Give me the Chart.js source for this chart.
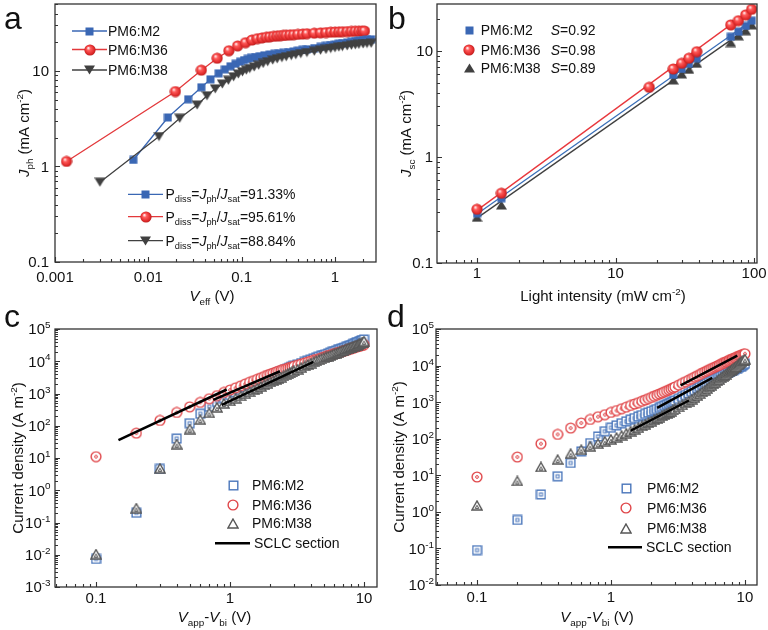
<!DOCTYPE html>
<html>
<head>
<meta charset="utf-8">
<script src="https://cdn.jsdelivr.net/npm/chart.js@4.4.1/dist/chart.umd.min.js"></script>
<style>
  body { margin: 0; background: #fff; }
  #wrap { position: relative; width: 768px; height: 630px; overflow: hidden; }
  canvas { position: absolute; }
</style>
</head>
<body>
<div id="wrap">
  <canvas id="pa" width="384" height="310" style="left:0;top:0"></canvas>
  <canvas id="pb" width="384" height="310" style="left:384px;top:0"></canvas>
  <canvas id="pc" width="384" height="330" style="left:0;top:300px"></canvas>
  <canvas id="pd" width="384" height="330" style="left:384px;top:300px"></canvas>
</div>
<script>
const FONT = '"Liberation Sans", Arial, sans-serif';
const RED = '#e3383b', BLUE = '#3a67b4', GRAY = '#404040', AXIS = '#333';

// ---------- panel a : Jph vs Veff ----------
const aM2V  = [0.0069,0.0162,0.0267,0.037,0.0463,0.0567,0.066,0.076,0.086,0.096,0.106,0.116,0.126,0.14,0.156,0.175,0.2,0.225,0.25,0.28,0.32,0.36,0.4,0.45,0.5,0.6,0.7,0.8,0.9,1.0,1.1,1.2,1.35,1.5,1.65,1.8,2.0,2.2,2.44];
const aM2J  = [1.17,3.26,5.06,6.75,8.18,9.45,10.4,11.2,11.9,12.5,13.0,13.4,13.7,14.0,14.3,14.6,14.9,15.1,15.3,15.5,15.8,16.0,16.3,16.6,16.9,17.4,17.9,18.3,18.7,19.0,19.3,19.6,19.9,20.2,20.5,20.8,21.0,21.3,21.5];
const aM36V = [0.00133,0.0195,0.037,0.0546,0.073,0.0906,0.11,0.129,0.147,0.165,0.184,0.2,0.22,0.24,0.26,0.28,0.3,0.33,0.36,0.4,0.45,0.5,0.6,0.7,0.8,0.9,1.0,1.1,1.2,1.35,1.5,1.65,1.8,1.95,2.07];
const aM36J = [1.13,6.1,10.2,13.6,16.3,18.3,19.8,21.1,21.8,22.2,22.6,22.8,23.1,23.3,23.5,23.6,23.7,23.9,24.0,24.2,24.4,24.6,24.9,25.1,25.3,25.5,25.6,25.7,25.8,25.9,26.0,26.1,26.1,26.2,26.2];
const aM38V = [0.00303,0.013,0.0217,0.0333,0.0425,0.0521,0.062,0.072,0.082,0.092,0.102,0.112,0.122,0.136,0.152,0.17,0.19,0.215,0.24,0.27,0.3,0.34,0.38,0.43,0.5,0.6,0.7,0.8,0.9,1.0,1.1,1.2,1.35,1.5,1.65,1.8,2.0,2.2,2.44];
const aM38J = [0.685,2.06,3.2,4.4,5.5,6.5,7.3,8.0,8.7,9.3,9.8,10.2,10.6,11.0,11.5,12.0,12.5,13.0,13.4,13.8,14.1,14.5,14.8,15.2,15.6,16.1,16.5,16.8,17.2,17.5,17.8,18.0,18.3,18.6,18.8,19.0,19.2,19.4,19.5];
const aXTicks = [0.001, 0.01, 0.1, 1], aXTickText = ['0.001', '0.01', '0.1', '1'];
const aYTicks = [0.1, 1, 10], aYTickText = ['0.1', '1', '10'];
const blendNames = ['PM6:M2', 'PM6:M36', 'PM6:M38'];
const aPdiss = ['91.33%', '95.61%', '88.84%'];

// ---------- panel b : Jsc vs light intensity ----------
const bM36I = [1, 1.5, 17.5, 26.1, 30.0, 33.9, 38.6, 67.9, 77.1, 87.1, 96.2];
const bM36J = [0.321, 0.455, 4.54, 6.76, 7.65, 8.53, 9.84, 17.6, 19.3, 21.9, 24.7];
const bI    = [1, 1.5, 26.1, 30.0, 33.9, 38.6, 67.9, 77.1, 87.1, 96.2];
const bM2J  = [0.294, 0.408, 5.94, 6.76, 7.55, 8.53, 13.6, 15.2, 17.2, 19.3];
const bM38J = [0.27, 0.352, 5.33, 6.07, 6.7, 7.65, 12.0, 13.9, 15.5, 17.6];
const bFitI = [0.97, 100];
const bFitM2 = [0.282, 20.0], bFitM36 = [0.305, 25.6], bFitM38 = [0.258, 18.1];
const bSlope = ['0.92', '0.98', '0.89'];
const bXTicks = [1, 10, 100], bXTickText = ['1', '10', '100'];
const bYTicks = [0.1, 1, 10], bYTickText = ['0.1', '1', '10'];

// ---------- panels c, d : current density vs Vapp-Vbi ----------
const vSweep = [0.1,0.2,0.3,0.4,0.5,0.6,0.7,0.8,0.9,1.0,1.1,1.2,1.3,1.4,1.5,1.6,1.7,1.8,1.9,2.0,2.1,2.2,2.3,2.4,2.5,2.6,2.7,2.8,2.9,3.0,
  3.2,3.4,3.6,3.8,4.0,4.2,4.4,4.6,4.8,5.0,5.2,5.4,5.6,5.8,6.0,6.2,6.4,6.6,6.8,7.0,7.2,7.4,7.6,7.8,8.0,8.2,8.4,8.6,8.8,9.0,9.2,9.4,9.6,9.8,10];
const cM2J  = [0.0074,0.2,4.6,40,120,235,390,550,720,900, 1090,1300,1530,1780,2050,2330,2620,2920,3230,3550,
  3870,4200,4540,4890,5250,5620,6000,6390,6790,7200, 8000,8800,9600,10400,11200, 12000,12900,13800,14700,15600,
  16500,17400,18400,19400,20400, 21400,22400,23500,24600,25700, 26800,27900,29100,30300,31500, 33000,34500,36000,37600,39200,
  40800,42400,44000,45500,47000];
const cM36J = [11,59,146,258,385,530,690,860,1080,1280, 1500,1730,1980,2240,2500,2780,3070,3370,3680,4000,
  4300,4600,4900,5200,5500,5800,6100,6400,6700,7000, 7600,8200,8800,9400,10000, 10650,11300,12000,12700,13400,
  14100,14800,15500,16200,16900, 17700,18400,19200,19900,20700, 21500,22200,23000,23800,24600, 25400,26200,27100,27900,28700,
  29500,30400,31200,32100,32900];
const cM38J = [0.0105,0.28,4.8,27,79,155,250,370,490,590, 710,840,980,1130,1300,1470,1660,1860,2060,2280,
  2500,2740,2990,3240,3510,3790,4080,4380,4690,5000, 5670,6390,7140,7930,8760, 9600,10400,11200,12000,12800,
  13600,14400,15300,16200,17100, 18000,19000,20000,21000,22000, 23000,24000,25100,26200,27300, 28400,29500,30700,31900,33100,
  34300,35600,36900,39500,42000];
const cSclcV = [[0.147, 0.945], [0.75, 2.36], [0.867, 4.19]];
const cSclcJ = [[36, 1330], [638, 4900], [447, 9500]];

const dM2J  = [0.09,0.6,3.0,9.4,21.7,45,76,115,160,200, 232,265,298,332,367,403,440,478,518,560,
  603,648,695,745,797,851,907,965,1025,1090, 1230,1390,1560,1740,1930, 2130,2340,2560,2790,3030,
  3270,3520,3780,4040,4310, 4580,4860,5140,5430,5720, 6010,6310,6610,6920,7230, 7550,7880,8220,8570,8930,
  9300,9690,10100,10600,11200];
const dM36J = [9,31.6,73,131,195,268,336,400,455,525, 590,660,730,810,890,970,1060,1150,1250,1350,
  1450,1560,1670,1790,1910,2040,2170,2310,2450,2600, 2920,3260,3620,4000,4400, 4820,5260,5720,6200,6700,
  7200,7700,8200,8700,9200, 9700,10200,10800,11400,12000, 12600,13200,13800,14400,15000, 15600,16200,16800,17400,18000,
  18600,19200,19800,20400,21000];
const dM38J = [1.5,7.0,16.9,27,39,50,62,73,85,96, 108,122,140,160,180,200,225,250,275,300,
  330,360,390,425,460,495,530,570,610,650, 740,840,950,1070,1200, 1350,1520,1700,1900,2120,
  2360,2620,2900,3200,3520, 3860,4220,4600,5000,5430, 5880,6350,6850,7380,7930, 8500,9100,9730,10400,11100,
  11800,12600,13400,14200,15000];
const dSclcV = [[3.31, 8.77], [2.21, 5.7], [1.4, 3.82]];
const dSclcJ = [[2860, 18800], [700, 4600], [165, 1110]];

const cdXTicks = [0.1, 1, 10], cdXTickText = ['0.1', '1', '10'];
const cYExp = [-3, -2, -1, 0, 1, 2, 3, 4, 5];
const dYExp = [-2, -1, 0, 1, 2, 3, 4, 5];

// ---------- helpers ----------
const pts = (xs, ys) => xs.map((x, i) => ({ x, y: ys[i] }));

function sprite(w, h, fn) {
  const c = document.createElement('canvas');
  c.width = w; c.height = h;
  fn(c.getContext('2d'));
  return c;
}
const ball = sprite(12, 12, g => {
  const gr = g.createRadialGradient(4.2, 3.9, 0.3, 6, 6, 6);
  gr.addColorStop(0, '#fff2f2'); gr.addColorStop(0.3, '#ff5b5b');
  gr.addColorStop(0.75, '#e02b2b'); gr.addColorStop(1, '#b01a1a');
  g.fillStyle = gr; g.beginPath(); g.arc(6, 6, 5.6, 0, 2 * Math.PI); g.fill();
});
const sqFill = sprite(9, 9, g => { g.fillStyle = BLUE; g.fillRect(0.5, 0.5, 8, 8); });
const triDown = sprite(11, 10, g => {
  g.fillStyle = GRAY; g.beginPath(); g.moveTo(0, 0.5); g.lineTo(11, 0.5); g.lineTo(5.5, 9.5); g.closePath(); g.fill();
});
const triUp = sprite(11, 10, g => {
  g.fillStyle = GRAY; g.beginPath(); g.moveTo(5.5, 0.5); g.lineTo(11, 9.5); g.lineTo(0, 9.5); g.closePath(); g.fill();
});
function openSq(inner) {
  return sprite(11, 11, g => {
    g.fillStyle = '#fff'; g.strokeStyle = '#4a76bb'; g.lineWidth = 1.4;
    g.fillRect(1, 1, 9, 9); g.strokeRect(1.2, 1.2, 8.6, 8.6);
    if (inner) { g.lineWidth = 1; g.strokeRect(4, 4, 3, 3); }
  });
}
function openCirc(inner) {
  return sprite(12, 12, g => {
    g.fillStyle = '#fff'; g.strokeStyle = '#e0474a'; g.lineWidth = 1.4;
    g.beginPath(); g.arc(6, 6, 4.9, 0, 2 * Math.PI); g.fill(); g.stroke();
    if (inner) { g.lineWidth = 1; g.beginPath(); g.arc(6, 6, 1.4, 0, 2 * Math.PI); g.stroke(); }
  });
}
function openTri(inner) {
  return sprite(12, 11, g => {
    g.fillStyle = '#fff'; g.strokeStyle = '#555'; g.lineWidth = 1.4;
    g.beginPath(); g.moveTo(6, 1); g.lineTo(11, 10); g.lineTo(1, 10); g.closePath(); g.fill(); g.stroke();
    if (inner) { g.lineWidth = 1; g.beginPath(); g.moveTo(6, 5.3); g.lineTo(7.8, 8.4); g.lineTo(4.2, 8.4); g.closePath(); g.stroke(); }
  });
}
const oSq = openSq(true), oCirc = openCirc(true), oTri = openTri(true);
const lSq = openSq(false), lCirc = openCirc(false), lTri = openTri(false);

// text with italic / subscript / superscript pieces, y = visual middle
function rich(ctx, segs, x, y, size, align) {
  const base = y + size * 0.36;
  const parts = segs.map(([t, k]) => {
    const small = /[bp]/.test(k);
    const font = (k.includes('i') ? 'italic ' : '') + (small ? size * 0.66 : size) + 'px ' + FONT;
    ctx.font = font;
    return { t, font, w: ctx.measureText(t).width,
      dy: k.includes('b') ? size * 0.22 : k.includes('p') ? -size * 0.42 : 0 };
  });
  const total = parts.reduce((s, p) => s + p.w, 0);
  let cx = align === 'center' ? x - total / 2 : align === 'right' ? x - total : x;
  ctx.textAlign = 'left'; ctx.textBaseline = 'alphabetic';
  for (const p of parts) { ctx.font = p.font; ctx.fillText(p.t, cx, base + p.dy); cx += p.w; }
}

function tickMarks(ctx, s, A, horiz) {
  const lo = Math.floor(Math.log10(s.min)), hi = Math.ceil(Math.log10(s.max));
  ctx.beginPath();
  for (let e = lo; e <= hi; e++) {
    for (let m = 1; m < 10; m++) {
      const v = m * Math.pow(10, e);
      if (v < s.min * 0.999 || v > s.max * 1.001) continue;
      const p = Math.round(s.getPixelForValue(v)) + 0.5;
      const len = m === 1 ? 5 : 3;
      if (horiz) { ctx.moveTo(p, A.bottom); ctx.lineTo(p, A.bottom - len); }
      else { ctx.moveTo(A.left, p); ctx.lineTo(A.left + len, p); }
    }
  }
  ctx.stroke();
}

function img(ctx, im, x, y) { ctx.drawImage(im, Math.round(x - im.width / 2), Math.round(y - im.height / 2)); }
function hline(ctx, color, w, x1, x2, y) {
  ctx.strokeStyle = color; ctx.lineWidth = w;
  ctx.beginPath(); ctx.moveTo(x1, y); ctx.lineTo(x2, y); ctx.stroke();
}

function decor(o) {
  return {
    id: 'decor',
    afterDraw(chart) {
      const { ctx, chartArea: A } = chart;
      const sx = chart.scales.x, sy = chart.scales.y;
      ctx.save();
      ctx.strokeStyle = AXIS; ctx.lineWidth = 1.3;
      ctx.strokeRect(A.left, A.top, A.right - A.left, A.bottom - A.top);
      ctx.lineWidth = 1.1;
      tickMarks(ctx, sx, A, true);
      tickMarks(ctx, sy, A, false);
      ctx.fillStyle = '#111';
      o.xt.forEach(([v, segs]) => rich(ctx, segs, sx.getPixelForValue(v), A.bottom + o.xlo, 15, 'center'));
      o.yt.forEach(([v, segs]) => rich(ctx, segs, A.left - o.ylo, sy.getPixelForValue(v), 15, 'right'));
      rich(ctx, o.xTitle, o.xTitlePos[0], o.xTitlePos[1], 15, 'center');
      ctx.save();
      ctx.translate(o.yTitleX, (A.top + A.bottom) / 2);
      ctx.rotate(-Math.PI / 2);
      rich(ctx, o.yTitle, 0, 0, 15, 'center');
      ctx.restore();
      ctx.font = '32px ' + FONT; ctx.textAlign = 'left'; ctx.textBaseline = 'alphabetic';
      ctx.fillText(o.letter, o.letterPos[0], o.letterPos[1]);
      if (o.legend) o.legend(ctx);
      ctx.restore();
    }
  };
}

function panel(id, o) {
  const axis = (range, fit) => ({
    type: 'logarithmic', min: range[0], max: range[1],
    grid: { display: false, drawTicks: false }, border: { display: false },
    ticks: { display: false }, afterFit: fit
  });
  return new Chart(document.getElementById(id), {
    type: 'scatter',
    data: { datasets: o.datasets },
    options: {
      responsive: false, animation: false, events: [], devicePixelRatio: 1,
      layout: { padding: o.pad, autoPadding: false },
      plugins: { legend: { display: false }, tooltip: { enabled: false } },
      scales: {
        x: axis(o.xr, s => { s.height = o.xh; s.paddingLeft = s.paddingRight = 0; }),
        y: axis(o.yr, s => { s.width = o.yw; s.paddingTop = s.paddingBottom = 0; })
      }
    },
    plugins: [decor(o)]
  });
}

const plain = (vals, texts) => vals.map((v, i) => [v, [[texts[i], '']]]);
const pow10 = exps => exps.map(e => [Math.pow(10, e), [['10', ''], [String(e), 'p']]]);
const lineSet = (xs, ys, color, w, order) => ({ data: pts(xs, ys), showLine: true, borderColor: color, borderWidth: w, pointRadius: 0, order });
const markSet = (xs, ys, style, order, lineColor) => ({
  data: pts(xs, ys), pointStyle: style, pointRadius: 5, order,
  showLine: !!lineColor, borderColor: lineColor || 'transparent', borderWidth: 1.3
});

// ---------- panel a ----------
panel('pa', {
  pad: { left: 0, top: 4, right: 8, bottom: 0 }, xh: 48, yw: 55,
  xr: [0.001, 2.75], yr: [0.1, 50.3],
  datasets: [
    markSet(aM38V, aM38J, triDown, 1, GRAY),
    markSet(aM2V, aM2J, sqFill, 2, BLUE),
    markSet(aM36V, aM36J, ball, 3, RED)
  ],
  xt: plain(aXTicks, aXTickText), xlo: 14.5,
  yt: plain(aYTicks, aYTickText), ylo: 6,
  xTitle: [['V', 'i'], ['eff', 'b'], [' (V)', '']], xTitlePos: [212, 296],
  yTitle: [['J', 'i'], ['ph', 'b'], [' (mA cm', ''], ['-2', 'p'], [')', '']], yTitleX: 24,
  letter: 'a', letterPos: [4, 29],
  legend(ctx) {
    const marks = [sqFill, ball, triDown], cols = [BLUE, RED, GRAY];
    [31, 49.5, 70].forEach((y, i) => {
      hline(ctx, cols[i], 1.3, 72, 107, y); img(ctx, marks[i], 89.5, y);
      ctx.fillStyle = '#111'; rich(ctx, [[blendNames[i], '']], 108, y, 14, 'left');
    });
    [194.3, 216.7, 240.7].forEach((y, i) => {
      hline(ctx, cols[i], 1.3, 128, 163, y); img(ctx, marks[i], 145.5, y);
      ctx.fillStyle = '#111';
      rich(ctx, [['P', ''], ['diss', 'b'], ['=', ''], ['J', 'i'], ['ph', 'b'], ['/', ''], ['J', 'i'], ['sat', 'b'], ['=' + aPdiss[i], '']], 165.5, y, 14, 'left');
    });
  }
});

// ---------- panel b ----------
panel('pb', {
  pad: { left: 0, top: 4, right: 11, bottom: 0 }, xh: 47, yw: 53,
  xr: [0.514, 105], yr: [0.1, 27.7],
  datasets: [
    markSet(bM36I, bM36J, ball, 1),
    markSet(bI, bM2J, sqFill, 2),
    markSet(bI, bM38J, triUp, 3),
    lineSet(bFitI, bFitM36, '#e8383d', 1.3, 4),
    lineSet(bFitI, bFitM2, '#3a6fb8', 1.3, 5),
    lineSet(bFitI, bFitM38, '#404040', 1.3, 6)
  ],
  xt: plain(bXTicks, bXTickText), xlo: 10,
  yt: plain(bYTicks, bYTickText), ylo: 4,
  xTitle: [['Light intensity (mW cm', ''], ['-2', 'p'], [')', '']], xTitlePos: [219, 296],
  yTitle: [['J', 'i'], ['sc', 'b'], [' (mA cm', ''], ['-2', 'p'], [')', '']], yTitleX: 22,
  letter: 'b', letterPos: [4, 29],
  legend(ctx) {
    const marks = [sqFill, ball, triUp];
    [30.3, 50, 68.3].forEach((y, i) => {
      img(ctx, marks[i], 85, y);
      ctx.fillStyle = '#111';
      rich(ctx, [[blendNames[i], '']], 96.7, y, 14, 'left');
      rich(ctx, [['S', 'i'], ['=' + bSlope[i], '']], 166.7, y, 14, 'left');
    });
  }
});

// ---------- panel c ----------
function sclcSets(vs, js) { return vs.map((v, i) => lineSet(v, js[i], '#000', 2.5, 0)); }
const jvTitleX = [['V', 'i'], ['app', 'b'], ['-', ''], ['V', 'i'], ['bi', 'b'], [' (V)', '']];
const jvTitleY = [['Current density (A m', ''], ['-2', 'p'], [')', '']];
function jvLegend(mx, tx, ys, lx1, lx2) {
  return ctx => {
    const marks = [lSq, lCirc, lTri];
    ys.slice(0, 3).forEach((y, i) => {
      img(ctx, marks[i], mx, y);
      ctx.fillStyle = '#111'; rich(ctx, [[blendNames[i], '']], tx, y, 14, 'left');
    });
    hline(ctx, '#000', 2.5, lx1, lx2, ys[3]);
    ctx.fillStyle = '#111'; rich(ctx, [['SCLC section', '']], lx2 + 4, ys[3], 14, 'left');
  };
}

panel('pc', {
  pad: { left: 0, top: 29, right: 7, bottom: 0 }, xh: 43, yw: 55,
  xr: [0.0494, 12.5], yr: [1e-3, 1e5],
  datasets: [
    ...sclcSets(cSclcV, cSclcJ),
    markSet(vSweep, cM38J, oTri, 1),
    markSet(vSweep, cM36J, oCirc, 2),
    markSet(vSweep, cM2J, oSq, 3)
  ],
  xt: plain(cdXTicks, cdXTickText), xlo: 10.3,
  yt: pow10(cYExp), ylo: 4.5,
  xTitle: jvTitleX, xTitlePos: [214.5, 317],
  yTitle: jvTitleY, yTitleX: 18,
  letter: 'c', letterPos: [4, 26.5],
  legend: jvLegend(233, 252, [185, 205, 223.3, 243.3], 215, 250)
});

// ---------- panel d ----------
panel('pd', {
  pad: { left: 0, top: 29, right: 11, bottom: 0 }, xh: 45, yw: 52,
  xr: [0.0494, 12.3], yr: [1e-2, 1e5],
  datasets: [
    ...sclcSets(dSclcV, dSclcJ),
    markSet(vSweep, dM38J, oTri, 1),
    markSet(vSweep, dM36J, oCirc, 2),
    markSet(vSweep, dM2J, oSq, 3)
  ],
  xt: plain(cdXTicks, cdXTickText), xlo: 12,
  yt: pow10(dYExp), ylo: 2,
  xTitle: jvTitleX, xTitlePos: [213, 317],
  yTitle: jvTitleY, yTitleX: 15,
  letter: 'd', letterPos: [3, 26.5],
  legend: jvLegend(242, 263, [188, 208, 228, 247.3], 224, 258)
});
</script>
</body>
</html>
